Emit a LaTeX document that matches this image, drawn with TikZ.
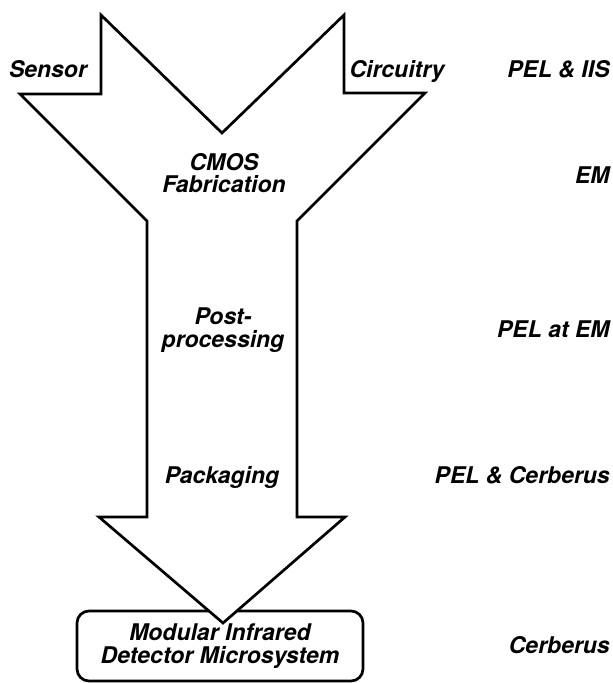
\documentclass[tikz,border=0pt]{standalone}
\usepackage{fontspec}
\setmainfont{TeX Gyre Heros}
\begin{document}
\begin{tikzpicture}[x=0.5pt,y=-0.5pt,
                lbl/.style={font=\fontsize{11.5}{11.2}\selectfont\bfseries\itshape, inner sep=0pt},
                outline/.style={line width=1.35pt}]
                \useasboundingbox (0,0) rectangle (613,683);
                \fill[white] (0,0) rectangle (613,683);

                % 枠の描画
                \node[outline, draw, rounded corners=6pt, minimum width=143pt, minimum height=35pt,
                      lbl, align=center] (sys) at (220,646) {Modular Infrared\\Detector Microsystem};

                % 矢印の描画
                \filldraw[outline, fill=white] (101,15) -- (222,133) -- (344,15) -- (344,93) -- (425,93)
                    -- (297,221) -- (297,517) -- (345,517) -- (223,623) -- (99,517) -- (147,517)
                    -- (147,221) -- (20,94) -- (101,94) -- cycle;

                \node[lbl, anchor=base] at (48,78) (sensor) {Sensor};
                \node[lbl, anchor=base] at (397,78) (circ) {Circuitry};
                \node[lbl, align=center] at (224,173) (cmos) {CMOS\\Fabrication};
                \node[lbl, align=center] at (223,330) (post) {Post-\\processing};
                \node[lbl, anchor=base] at (222,483) (pack) {Packaging};

                \node[lbl, anchor=base east] at (610,78)  (pel1) {PEL \& IIS};
                \node[lbl, anchor=base east] at (610,184) (em)   {EM};
                \node[lbl, anchor=base east] at (610,337) (pel2) {PEL at EM};
                \node[lbl, anchor=base east] at (610,483) (pel3) {PEL \& Cerberus};
                \node[lbl, anchor=base east] at (610,653) (cerb) {Cerberus};
            \end{tikzpicture}
\end{document}
